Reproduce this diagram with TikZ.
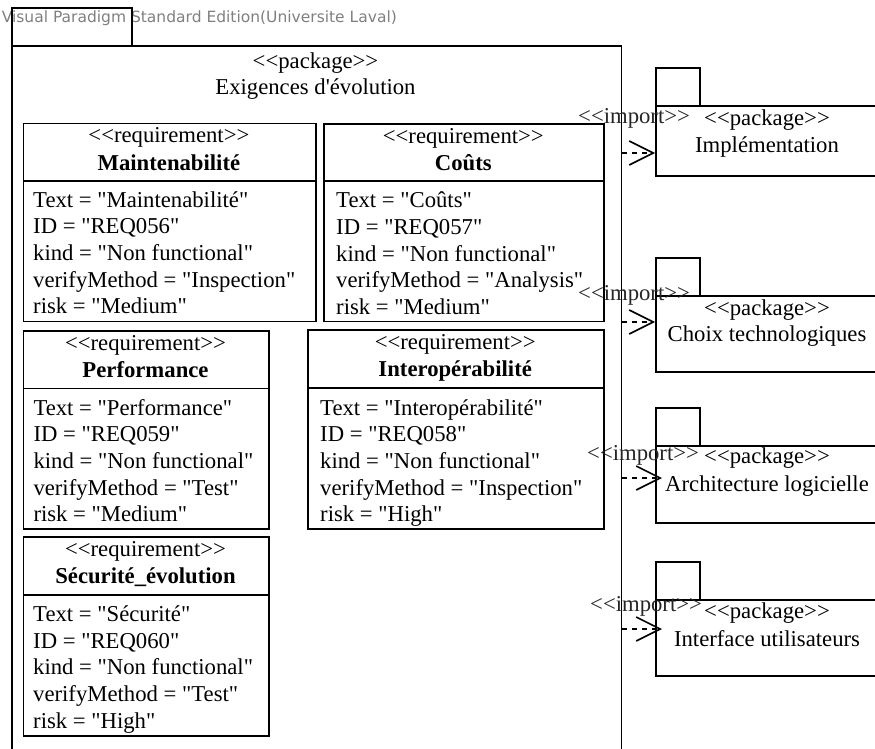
\documentclass[tikz,border=0pt]{standalone}
\usepackage{fontspec}
\setmainfont{Liberation Serif}[Ligatures=TeXOff]
\newfontfamily\wmfont{DejaVu Sans}[Ligatures=TeXOff]
\usetikzlibrary{arrows.meta}

\newcommand\umlsize{\fontsize{22.7}{26.7}\selectfont}

\tikzset{
  ln/.style={line width=1.6pt, draw=black},
  umlbox/.style={ln, rectangle, inner sep=0pt, anchor=north west, fill=white},
  stereo/.style={anchor=base, inner sep=0pt, font=\umlsize},
  reqname/.style={anchor=base, inner sep=0pt, font=\umlsize\bfseries},
  attr/.style={anchor=base west, inner sep=0pt, font=\umlsize},
  pkgname/.style={anchor=base, inner sep=0pt, font=\umlsize},
  importlbl/.style={anchor=base west, inner sep=0pt, font=\umlsize, text=black!85},
  importdep/.style={line width=1.6pt, draw=black, dash pattern=on 5pt off 5pt,
    -{Straight Barb[length=24pt,width=24pt,line width=1.6pt]}},
}

\begin{document}
\begin{tikzpicture}[x=1pt,y=-1pt]
\path[use as bounding box] (0,0) rectangle (875,749);
\clip (0,0) rectangle (875,749);
\fill[white] (0,0) rectangle (875,749);

% tool watermark
\node[anchor=base east, inner sep=0pt, text=black!50, font=\wmfont\fontsize{15.5}{18}\selectfont] (wm) at (397,22.5) {Visual Paradigm Standard Edition(Universite Laval)};

% main package
\node[umlbox, fill=none, minimum width=120pt, minimum height=38pt] (exig-tab) at (11,7) {};
\node[umlbox, fill=none, minimum width=609.5pt, minimum height=720pt] (exig) at (11,45) {};
\node[pkgname] (exig-st) at (315.5,68.3) {<<package>>};
\node[pkgname] (exig-nm) at (315.5,94.3) {Exigences d'évolution};

% requirement: Maintenabilité
\node[umlbox, minimum width=292.3pt, minimum height=198pt] (mnt) at (22.7,122.7) {};
\draw[ln] (mnt.west |- 0,180.7) -- (mnt.east |- 0,180.7);
\node[stereo] (mnt-st) at (168.9,142.7) {<<requirement>>};
\node[reqname] (mnt-nm) at (168.9,170.2) {Maintenabilité};
\foreach \t [count=\i] in {{Text = "Maintenabilité"},{ID = "REQ056"},{kind = "Non functional"},{verifyMethod = "Inspection"},{risk = "Medium"}}
  \node[attr] (mnt-a\i) at (33,{207.2+26.67*(\i-1)}) {\t};

% requirement: Coûts
\node[umlbox, minimum width=280pt, minimum height=197.4pt] (cou) at (323.3,123.3) {};
\draw[ln] (cou.west |- 0,180.7) -- (cou.east |- 0,180.7);
\node[stereo] (cou-st) at (463.3,143.3) {<<requirement>>};
\node[reqname] (cou-nm) at (463.3,170.8) {Coûts};
\foreach \t [count=\i] in {{Text = "Coûts"},{ID = "REQ057"},{kind = "Non functional"},{verifyMethod = "Analysis"},{risk = "Medium"}}
  \node[attr] (cou-a\i) at (336,{207.8+26.67*(\i-1)}) {\t};

% requirement: Performance
\node[umlbox, minimum width=245.6pt, minimum height=198.3pt] (perf) at (22.7,330) {};
\draw[ln] (perf.west |- 0,388.3) -- (perf.east |- 0,388.3);
\node[stereo] (perf-st) at (145.5,350) {<<requirement>>};
\node[reqname] (perf-nm) at (145.5,377.5) {Performance};
\foreach \t [count=\i] in {{Text = "Performance"},{ID = "REQ059"},{kind = "Non functional"},{verifyMethod = "Test"},{risk = "Medium"}}
  \node[attr] (perf-a\i) at (33.3,{415+26.67*(\i-1)}) {\t};

% requirement: Interopérabilité
\node[umlbox, minimum width=295.7pt, minimum height=198.7pt] (inter) at (307.3,329.3) {};
\draw[ln] (inter.west |- 0,388) -- (inter.east |- 0,388);
\node[stereo] (inter-st) at (455.2,349) {<<requirement>>};
\node[reqname] (inter-nm) at (455.2,376.8) {Interopérabilité};
\foreach \t [count=\i] in {{Text = "Interopérabilité"},{ID = "REQ058"},{kind = "Non functional"},{verifyMethod = "Inspection"},{risk = "High"}}
  \node[attr] (inter-a\i) at (320,{415+26.67*(\i-1)}) {\t};

% requirement: Sécurité_évolution
\node[umlbox, minimum width=245.6pt, minimum height=199pt] (secu) at (22.7,536) {};
\draw[ln] (secu.west |- 0,595) -- (secu.east |- 0,595);
\node[stereo] (secu-st) at (145.5,556) {<<requirement>>};
\node[reqname] (secu-nm) at (145.5,583.5) {Sécurité\_évolution};
\foreach \t [count=\i] in {{Text = "Sécurité"},{ID = "REQ060"},{kind = "Non functional"},{verifyMethod = "Test"},{risk = "High"}}
  \node[attr] (secu-a\i) at (33,{621.5+26.67*(\i-1)}) {\t};

% imported packages
\node[umlbox, minimum width=44pt, minimum height=38pt] (impl-tab) at (655,67) {};
\node[umlbox, minimum width=224pt, minimum height=70pt] (impl) at (655,105) {};
\node[pkgname] (impl-st) at (767,125) {<<package>>};
\node[pkgname] (impl-nm) at (767,152.7) {Implémentation};

\node[umlbox, minimum width=44pt, minimum height=38pt] (choix-tab) at (655,257) {};
\node[umlbox, minimum width=224pt, minimum height=76pt] (choix) at (655,295) {};
\node[pkgname] (choix-st) at (767,315) {<<package>>};
\node[pkgname] (choix-nm) at (767,341.7) {Choix technologiques};

\node[umlbox, minimum width=44pt, minimum height=38pt] (arch-tab) at (655,407) {};
\node[umlbox, minimum width=224pt, minimum height=77pt] (arch) at (655,445) {};
\node[pkgname] (arch-st) at (767,463.3) {<<package>>};
\node[pkgname] (arch-nm) at (767,491.7) {Architecture logicielle};

\node[umlbox, minimum width=44pt, minimum height=38pt] (ihm-tab) at (655,561) {};
\node[umlbox, minimum width=224pt, minimum height=76pt] (ihm) at (655,599) {};
\node[pkgname] (ihm-st) at (767,618.3) {<<package>>};
\node[pkgname] (ihm-nm) at (767,646) {Interface utilisateurs};

% import dependencies
\coordinate (arch-in) at (662,478);
\coordinate (ihm-in) at (662,629);
\draw[importdep] (exig.east |- 0,153) -- (impl.west |- 0,153);
\draw[importdep] (exig.east |- 0,322) -- (choix.west |- 0,322);
\draw[importdep] (exig.east |- arch-in) -- (arch-in);
\draw[importdep] (exig.east |- ihm-in) -- (ihm-in);

\node[importlbl] (imp1) at (578,123.3) {<<import>>};
\node[importlbl] (imp2) at (578,300) {<<import>>};
\node[importlbl] (imp3) at (587,460) {<<import>>};
\node[importlbl] (imp4) at (590,611.7) {<<import>>};
\end{tikzpicture}
\end{document}
